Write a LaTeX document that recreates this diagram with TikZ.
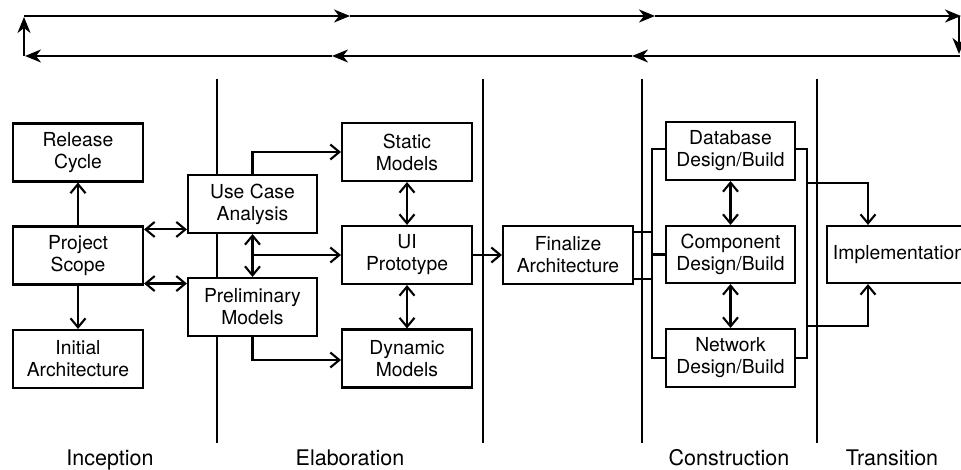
\documentclass[tikz,border=0pt]{standalone}
\usepackage{fontspec}
\setmainfont{TeX Gyre Heros}
\usetikzlibrary{arrows.meta}
\begin{document}
\begin{tikzpicture}[x=1pt,y=-1pt,line width=2.1pt,
 box/.style={draw, inner sep=0pt, align=center, font=\fontsize{19.3}{22}\selectfont, minimum width=130pt, minimum height=58pt},
 arr/.style={-{Straight Barb[length=9pt,width=15pt]}},
 darr/.style={{Straight Barb[length=9pt,width=15pt]}-{Straight Barb[length=9pt,width=15pt]}},
 carr/.style={-{Stealth[length=16pt,width=13pt,inset=5pt]}},
 phase/.style={font=\fontsize{21.5}{24}\selectfont, anchor=base},
 divider/.style={line width=2.3pt}
]
\useasboundingbox (0,0) rectangle (961,470);

% cycle arrows
\coordinate (t0) at (24,16);
\coordinate (t1) at (350,16);
\coordinate (t2) at (655,16);
\coordinate (t3) at (961,16);
\coordinate (r0) at (959,16);
\coordinate (r1) at (959,54);
\coordinate (b0) at (960,56);
\coordinate (b1) at (632,56);
\coordinate (b2) at (332,56);
\coordinate (b3) at (25,56);
\coordinate (l0) at (24,56);
\coordinate (l1) at (24,17);
\draw[carr] (t0) -- (t1);
\draw[carr] (t1) -- (t2);
\draw[carr] (t2) -- (t3);
\draw[carr] (r0) -- (r1);
\draw[carr] (b0) -- (b1);
\draw[carr] (b1) -- (b2);
\draw[carr] (b2) -- (b3);
\draw[carr] (l0) -- (l1);

% dividers
\coordinate (d1a) at (217,79); \coordinate (d1b) at (217,443);
\coordinate (d2a) at (483,79); \coordinate (d2b) at (483,443);
\coordinate (d3a) at (642,79); \coordinate (d3b) at (642,443);
\coordinate (d4a) at (817,79); \coordinate (d4b) at (817,443);
\draw[divider] (d1a) -- (d1b);
\draw[divider] (d2a) -- (d2b);
\draw[divider] (d3a) -- (d3b);
\draw[divider] (d4a) -- (d4b);

% boxes
\node[box, fill=white] (rc) at (78,152.5) {Release\\Cycle};
\node[box, fill=white] (ps) at (78,255.5) {Project\\Scope};
\node[box, fill=white] (ia) at (78,359) {Initial\\Architecture};
\node[box, fill=white, minimum width=129pt] (uca) at (252.5,204) {Use Case\\Analysis};
\node[box, fill=white, minimum width=129pt] (pm) at (252.5,307) {Preliminary\\Models};
\node[box] (sm) at (407,152) {Static\\Models};
\node[box] (ui) at (407,255) {UI\\Prototype};
\node[box] (dm) at (407,358.5) {Dynamic\\Models};
\node[box] (fa) at (568,255) {Finalize\\Architecture};
\node[box, minimum width=129pt] (db) at (730.5,151) {Database\\Design/Build};
\node[box, minimum width=129pt, minimum height=57pt] (cd) at (730.5,254.5) {Component\\Design/Build};
\node[box, minimum width=129pt] (nd) at (730.5,358) {Network\\Design/Build};
\node[box, minimum width=144pt, minimum height=57pt] (impl) at (899,254.5) {Implementation};

% inception connectors
\draw[arr] (ps) -- (rc);
\draw[arr] (ps) -- (ia);
\draw[darr] ([yshift=-4pt]ps.north east) -- ([yshift=-4pt]ps.north east -| uca.west);
\draw[darr] ([yshift=2pt]ps.south east) -- ([yshift=2pt]ps.south east -| pm.west);

% elaboration connectors
\draw[arr] (uca.north) |- (sm.west);
\draw[darr] (uca) -- (pm);
\draw[arr] (uca.south |- ui.west) -- (ui.west);
\draw[arr] (pm.south) |- ([yshift=-1.5pt]dm.west);
\draw[darr] (sm) -- (ui);
\draw[darr] (ui) -- (dm);
\draw[arr] (ui) -- (fa);

% construction buses
\coordinate (busL) at (652,0);
\coordinate (busR) at (807,0);
\draw ([yshift=2pt]db.west) -| (busL |- nd.west) -- (nd.west);
\draw (cd.west) -- (cd.west -| busL);
\draw ([yshift=-7pt]fa.north east) -- ([yshift=-7pt]fa.north east -| busL);
\draw ([yshift=6pt]fa.south east) -- ([yshift=6pt]fa.south east -| busL);
\draw ([yshift=2pt]db.east) -| (busR |- nd.east) -- (nd.east);
\draw[darr] (db) -- (cd);
\draw[darr] (cd) -- (nd);

% to implementation
\coordinate (impX) at (868,0);
\coordinate (j1) at (807,183);
\coordinate (j2) at (807,326);
\draw[arr] (j1) -| (impX |- impl.north);
\draw[arr] (j2) -| (impX |- impl.south);

% phase labels
\node[phase] (lab1) at (110,465) {Inception};
\node[phase] (lab2) at (350,465) {Elaboration};
\node[phase] (lab3) at (729,465) {Construction};
\node[phase] (lab4) at (892,465) {Transition};
\end{tikzpicture}
\end{document}
